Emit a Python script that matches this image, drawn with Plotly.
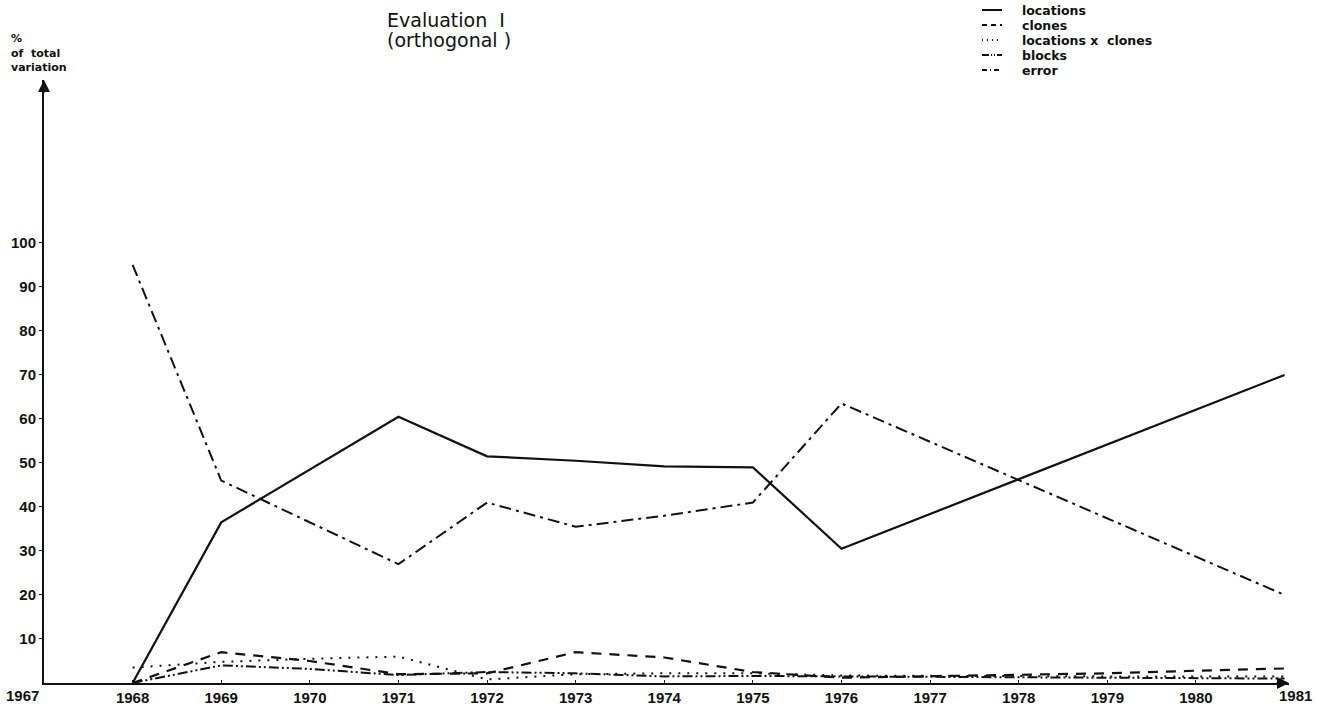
import plotly.graph_objects as go

years = [1968, 1969, 1970, 1971, 1972, 1973, 1974, 1975, 1976, 1977, 1978, 1979, 1980, 1981]

loc_years = [1968, 1969, 1971, 1972, 1973, 1974, 1975, 1976, 1981]
locations = [0, 36.5, 60.5, 51.5, 50.5, 49.2, 49, 30.5, 70]

err_years = [1968, 1969, 1971, 1972, 1973, 1974, 1975, 1976, 1981]
error = [95, 46, 27, 41, 35.5, 38, 41, 63.5, 20]

clones = [0, 7, 5, 2, 2.2, 7, 5.8, 2.5, 1.2, 1.5, 1.8, 2.2, 2.8, 3.3]
loc_x_clones = [3.5, 4.8, 5.5, 6, 0.8, 2, 2.2, 2.2, 1.7, 1.6, 1.5, 1.5, 1.5, 1.5]
blocks = [0, 4, 3.2, 1.8, 2.5, 2.2, 1.5, 1.6, 1.5, 1.4, 1.3, 1.2, 1.1, 1.0]

y_ticks = [10, 20, 30, 40, 50, 60, 70, 80, 90, 100]
x_ticks = list(range(1967, 1982))

series_names = ["locations", "clones", "locations x  clones", "blocks", "error"]
series_dash = ["solid", "10px,8px", "2px,7px", "10px,3px,2px,3px,2px,3px", "12px,5px,3px,5px"]
legend_dash = ["solid", "5px,4px", "1px,4px", "7px,2px,1px,2px,1px,2px", "5px,3px,1px,3px"]
ylabel_lines = ["%", "of  total", "variation"]

FONT = "Liberation Sans"
BLACK = "#111111"
W, H = 1318, 707
L, R, T, B = 44, 29, 80, 24
PW, PH = W - L - R, H - T - B


def px(xp):
    return (xp - L) / PW


def py(yp):
    return (H - B - yp) / PH


fig = go.Figure()
widths = [2.2, 2.2, 2, 2, 2]
for name, xs, ys, ds, lw in zip(series_names,
                               [loc_years, years, years, years, err_years],
                               [locations, clones, loc_x_clones, blocks, error],
                               series_dash, widths):
    fig.add_trace(go.Scatter(x=xs, y=ys, mode="lines", name=name,
                             line=dict(color=BLACK, width=lw, dash=ds)))

# axis arrows
fig.add_annotation(x=1967, y=137, xref="x", yref="y", ax=0, ay=14,
                   showarrow=True, arrowhead=2, arrowsize=1.2, arrowwidth=2, arrowcolor=BLACK, text="")
fig.add_annotation(x=1981.05, y=0, xref="x", yref="y", ax=-14, ay=0,
                   showarrow=True, arrowhead=2, arrowsize=1.2, arrowwidth=2, arrowcolor=BLACK, text="")

# title
for txt, yy in [("Evaluation  I", 20), ("(orthogonal )", 40)]:
    fig.add_annotation(xref="paper", yref="paper", x=px(385), y=py(yy),
                       xanchor="left", yanchor="middle", showarrow=False, text=txt,
                       font=dict(family="DejaVu Sans", size=19, color=BLACK))
# y-axis label
for txt, yy in zip(ylabel_lines, [39, 53, 67]):
    fig.add_annotation(xref="paper", yref="paper", x=px(9), y=py(yy),
                       xanchor="left", yanchor="middle", showarrow=False, text=txt,
                       font=dict(family="DejaVu Sans", size=11, color=BLACK, weight="bold"))

# manual legend
for i, (nm, ds) in enumerate(zip(series_names, legend_dash)):
    yy = 10 + 15 * i
    fig.add_shape(type="line", xref="paper", yref="paper", x0=px(982), x1=px(1002),
                  y0=py(yy), y1=py(yy), line=dict(color=BLACK, width=2, dash=ds))
    fig.add_annotation(xref="paper", yref="paper", x=px(1020), y=py(yy), xanchor="left",
                       yanchor="middle", showarrow=False, text=nm,
                       font=dict(family="DejaVu Sans", size=12.5, color=BLACK, weight="bold"))

# endpoint x labels
for xv, sh in [(x_ticks[0], -22), (x_ticks[-1], 11)]:
    fig.add_annotation(x=xv, y=0, xref="x", yref="y", text=str(xv), showarrow=False,
                       xshift=sh, yshift=-12,
                       font=dict(family=FONT, size=15, color=BLACK, weight="bold"))

fig.update_xaxes(range=[1967, 1981.05], tickvals=x_ticks[1:-1], ticktext=[str(v) for v in x_ticks[1:-1]],
                 showline=True, linecolor=BLACK, linewidth=2, ticks="inside", ticklen=3,
                 tickcolor=BLACK, showgrid=False, zeroline=False, automargin=False,
                 tickfont=dict(family=FONT, size=15, color=BLACK, weight="bold"))
fig.update_yaxes(range=[0, 137], tickvals=y_ticks, ticktext=[str(v) for v in y_ticks],
                 showline=True, linecolor=BLACK, linewidth=2, ticks="outside", ticklen=3,
                 tickcolor=BLACK, showgrid=False, zeroline=False, automargin=False,
                 tickfont=dict(family=FONT, size=15, color=BLACK, weight="bold"))

fig.update_layout(
    width=W, height=H,
    margin=dict(l=L, r=R, t=T, b=B, autoexpand=False),
    plot_bgcolor="white", paper_bgcolor="white",
    font=dict(family=FONT, color=BLACK),
    showlegend=False,
)

fig.write_html("out.html", config={"displayModeBar": False},
               post_script="document.body.style.margin='0';document.body.style.overflow='hidden';")
